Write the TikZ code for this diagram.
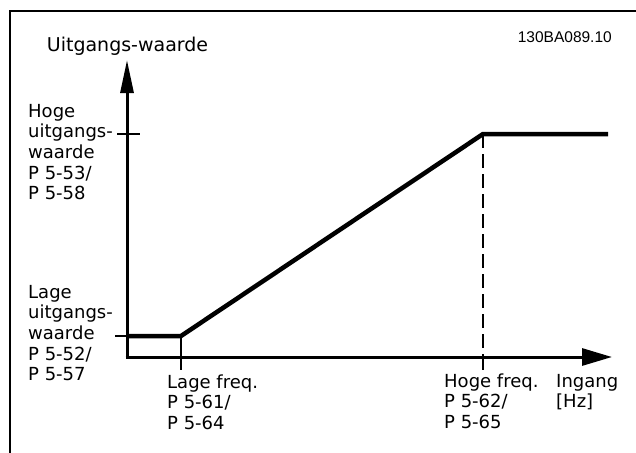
\documentclass[tikz,border=0pt]{standalone}
\usepackage{fontspec}
\setmainfont{DejaVu Sans}
\newfontfamily\codefont{Liberation Sans}
\usetikzlibrary{arrows.meta}
\tikzset{
  lbl/.style={inner sep=0pt, anchor=base west, font=\fontsize{18}{20.7}\selectfont},
  axisline/.style={line width=3pt},
  curve/.style={line width=4.5pt, line join=miter},
  tickline/.style={line width=1.5pt},
  frameline/.style={line width=2pt},
}
\begin{document}
\begin{tikzpicture}[x=1pt, y=-1pt]
\useasboundingbox (0,0) rectangle (636,452);
% frame
\draw[frameline] (10,460) -- (10,11) -- (640,11);
% coordinates
\coordinate (O) at (127,357);
\coordinate (ytip) at (127,60);
\coordinate (xtip) at (612,357);
\coordinate (L) at (181,336);
\coordinate (H) at (483,134);
\coordinate (E) at (608,134);
\coordinate (Ly) at (127,336);
\coordinate (Hy) at (127,134);
% axes
\draw[axisline, -{Triangle[length=33pt,width=13pt]}] (127,358.5) -- (ytip);
\draw[axisline, -{Triangle[length=30pt,width=17pt]}] (125.5,357) -- (xtip);
% curve
\draw[curve] (Ly) -- (L) -- (H) -- (E);
% ticks
\draw[tickline] (115,336) -- (Ly);
\draw[tickline] (117,134) -- (140,134);
\draw[tickline] (L) -- (181,370);
\draw[tickline, dash pattern=on 14pt off 6pt] (H) -- (483,357);
\draw[tickline] (483,355) -- (483,370);
% labels
\node[lbl, anchor=base, font=\fontsize{19}{22}\selectfont] (ylab) at (127.5,52) {Uitgangs-waarde};
\node[inner sep=0pt, anchor=base east, font=\codefont\fontsize{15.5}{17}\selectfont] (code) at (612,43) {130BA089.10};
\node[lbl] (hoge) at (28,117) {\vtop{\hbox{Hoge}\hbox{uitgangs-}\hbox{waarde}\hbox{P 5-53/}\hbox{P 5-58}}};
\node[lbl] (lage) at (28,298) {\vtop{\hbox{Lage}\hbox{uitgangs-}\hbox{waarde}\hbox{P 5-52/}\hbox{P 5-57}}};
\node[lbl] (lfreq) at (167,388) {\vtop{\hbox{Lage freq.}\hbox{P 5-61/}\hbox{P 5-64}}};
\node[lbl] (hfreq) at (444,387) {\vtop{\hbox{Hoge freq.}\hbox{P 5-62/}\hbox{P 5-65}}};
\node[lbl] (ingang) at (556,387) {\vtop{\hbox{Ingang}\hbox{[Hz]}}};
\end{tikzpicture}
\end{document}
